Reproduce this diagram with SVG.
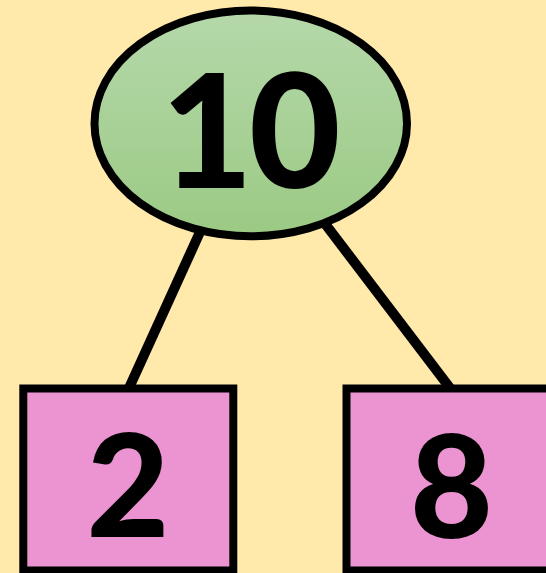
<svg xmlns="http://www.w3.org/2000/svg" width="546" height="573" viewBox="0 0 546 573">
  <defs>
    <linearGradient id="g" x1="0" y1="0" x2="0" y2="1">
      <stop offset="0" stop-color="#B5D8AA"/>
      <stop offset="1" stop-color="#9BCA84"/>
    </linearGradient>
    <style>
      .lbl { font-family: Lato, "Open Sans", "Liberation Sans", sans-serif; font-weight: 900; fill: #000; text-anchor: middle; }
      .box { fill: #EB94D1; stroke: #000; stroke-width: 8; }
      .edge { stroke: #000; stroke-width: 10; fill: none; }
    </style>
  </defs>
  <rect width="546" height="573" fill="#FFE9AB"/>
  <g id="connectors">
    <line class="edge" x1="200" y1="232" x2="129" y2="388"/>
    <line class="edge" x1="326" y1="225" x2="450" y2="388"/>
  </g>
  <g id="node-10">
    <ellipse cx="250.75" cy="123.4" rx="156.25" ry="112.9" fill="url(#g)" stroke="#000" stroke-width="8"/>
    <text class="lbl" x="249" y="188" font-size="158" letter-spacing="-4">10</text>
  </g>
  <g id="node-2">
    <rect class="box" x="23.3" y="388.5" width="210" height="182"/>
    <text class="lbl" x="128" y="537" font-size="143">2</text>
  </g>
  <g id="node-8">
    <rect class="box" x="346.5" y="388.5" width="210" height="182"/>
    <text class="lbl" x="451.5" y="538" font-size="143">8</text>
  </g>
</svg>
